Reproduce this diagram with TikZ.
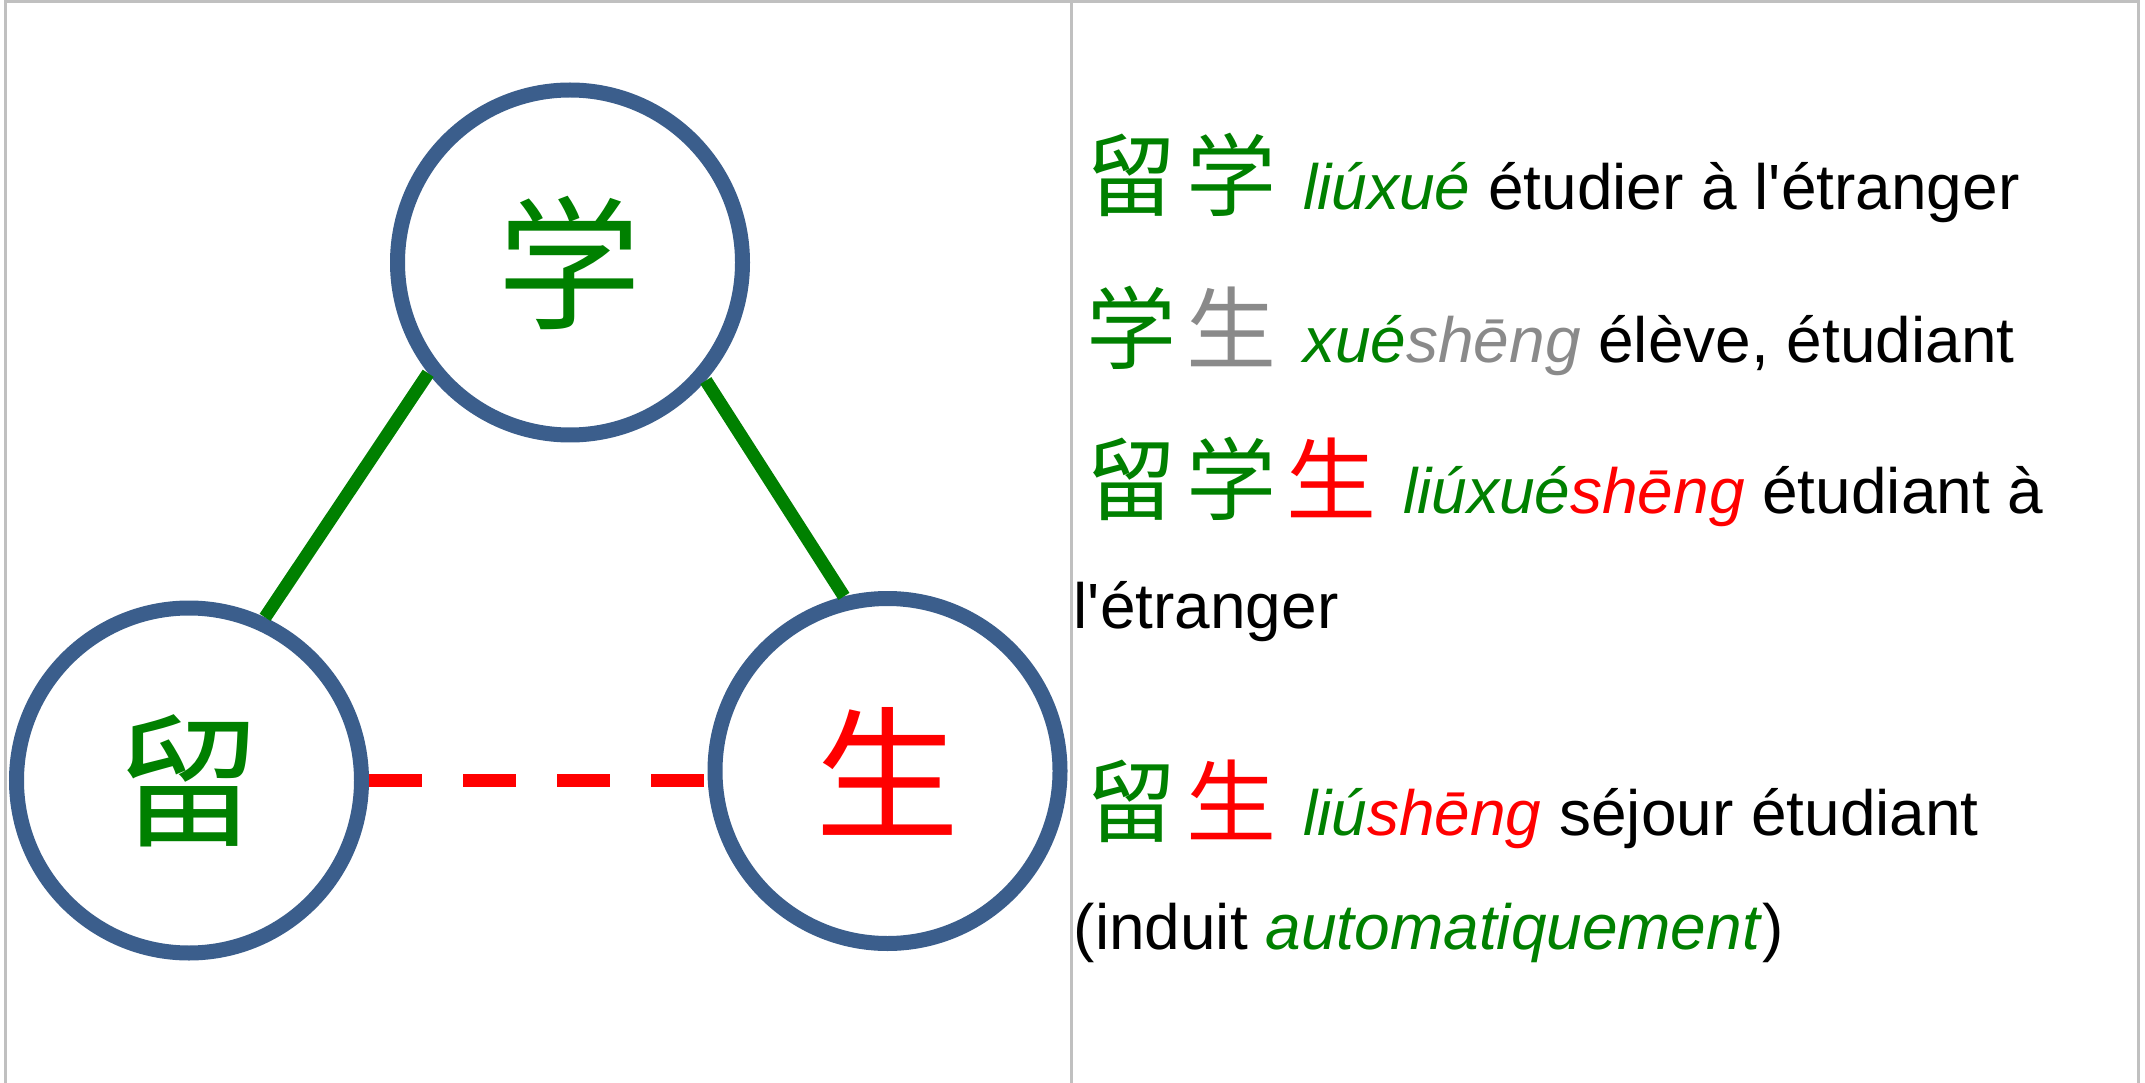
\documentclass[tikz,border=0pt]{standalone}
\usepackage{fontspec}
\setmainfont{Liberation Sans}
\newfontfamily\cjk{Noto Sans CJK SC}
\definecolor{ring}{RGB}{59,94,140}
\definecolor{hgreen}{RGB}{0,128,0}
\definecolor{hred}{RGB}{255,0,0}
\definecolor{hgray}{RGB}{138,138,138}
\definecolor{rulegray}{RGB}{192,192,192}
\newcommand\hz[2]{\makebox[1cm][l]{\cjk\fontsize{25.6}{26}\selectfont\color{#1}#2}}

\begin{document}
\begin{tikzpicture}
  \tikzset{zi/.style={shape=circle,draw=ring,line width=0.15cm,minimum size=3.45cm,inner sep=0pt,fill=white,font=\cjk\fontsize{41}{41}\selectfont},
    txt/.style={anchor=base west,inner sep=0pt,font=\fontsize{18.2}{22}\selectfont}};
  \useasboundingbox (0,0) rectangle (21.45,-10.83);
  \draw[rulegray,line width=0.03cm] (0.05,-10.83) -- (0.05,-0.02) -- (21.385,-0.02) -- (21.385,-10.83);
  \draw[rulegray,line width=0.03cm] (10.715,-0.02) -- (10.715,-10.83);
  \node[zi,text=hgreen] (X) at (5.70,-2.625){学};
  \node[zi,text=hgreen] (L) at (1.89,-7.805){留};
  \node[zi,text=hred] (S) at (8.875,-7.71){生};
  \draw[hgreen,line width=0.13cm] (L.65) -- (X.218.5);
  \draw[hgreen,line width=0.13cm] (X.319) -- (S.104);
  \draw[hred,line width=0.13cm,dash pattern=on 0.53cm off 0.41cm] (L.east) -- (L.east -| S.west);
  \node[txt] (l1) at (10.855,-2.10){\hz{hgreen}{留}\hz{hgreen}{学}\hspace{0.17cm}\textcolor{hgreen}{\textit{liúxué}} étudier à l\textquotesingle étranger};
  \node[txt] (l2) at (10.855,-3.625){\hz{hgreen}{学}\hz{hgray}{生}\hspace{0.17cm}\textit{\textcolor{hgreen}{xué}\textcolor{hgray}{shēng}} élève, étudiant};
  \node[txt] (l3) at (10.855,-5.13){\hz{hgreen}{留}\hz{hgreen}{学}\hz{hred}{生}\hspace{0.17cm}\textit{\textcolor{hgreen}{liúxué}\textcolor{hred}{shēng}} étudiant à};
  \node[txt] (l4) at (10.73,-6.28){l\textquotesingle étranger};
  \node[txt] (l5) at (10.855,-8.35){\hz{hgreen}{留}\hz{hred}{生}\hspace{0.17cm}\textit{\textcolor{hgreen}{liú}\textcolor{hred}{shēng}} séjour étudiant};
  \node[txt] (l6) at (10.73,-9.49){(induit \textcolor{hgreen}{\textit{automatiquement}})};
\end{tikzpicture}
\end{document}
